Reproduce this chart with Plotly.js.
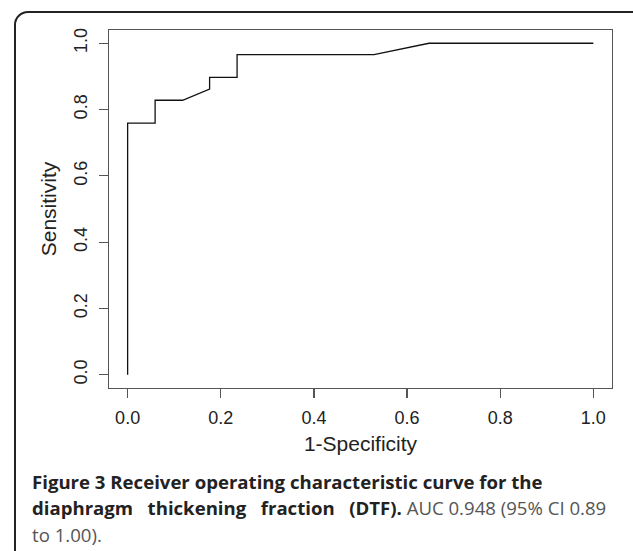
<!DOCTYPE html>
<html>
<head>
<meta charset="utf-8">
<script src="https://cdn.plot.ly/plotly-3.0.1.min.js"></script>
<style>
  html, body { margin: 0; padding: 0; background: #ffffff; }
  #wrap { position: relative; width: 633px; height: 551px; overflow: hidden; }
  #card { position: absolute; left: 14px; top: 11px; width: 700px; height: 600px;
          border: 2px solid #222; border-radius: 14px; box-sizing: border-box; }
  #chart { position: absolute; left: 0; top: 0; width: 633px; height: 551px; }
</style>
</head>
<body>
<div id="wrap">
  <div id="card"></div>
  <div id="chart"></div>
</div>
<script>
// ROC curve (1 - specificity vs sensitivity)
const fpr = [0.000, 0.000, 0.059, 0.059, 0.118, 0.176, 0.176, 0.235, 0.235, 0.529, 0.647, 1.000];
const tpr = [0.000, 0.759, 0.759, 0.828, 0.828, 0.862, 0.897, 0.897, 0.966, 0.966, 1.000, 1.000];

const tickVals = [0, 0.2, 0.4, 0.6, 0.8, 1.0];
const tickText = ['0.0', '0.2', '0.4', '0.6', '0.8', '1.0'];

const xTitle = '1-Specificity';
const yTitle = 'Sensitivity';
const captionBold1 = 'Figure 3 Receiver operating characteristic curve for the';
const captionBold2 = 'diaphragm&nbsp;&nbsp; thickening&nbsp;&nbsp; fraction&nbsp;&nbsp; (DTF).';
const captionNormal2 = 'AUC 0.948 (95% CI 0.89';
const captionNormal3 = 'to 1.00).';

const W = 633, H = 551;
const M = { l: 109, r: 21, t: 30, b: 163 };
const plotW = W - M.l - M.r, plotH = H - M.t - M.b;
const px = x => (x - M.l) / plotW;
const py = y => (H - M.b - y) / plotH;

const axisFont = { family: 'Liberation Sans, Arial, sans-serif', size: 18, color: '#222' };
const titleFont = { family: 'Liberation Sans, Arial, sans-serif', size: 21, color: '#222' };
const capFont = 'Open Sans, Noto Sans, sans-serif';
const capSize = 18.6;

const trace = {
  x: fpr, y: tpr, type: 'scatter', mode: 'lines',
  line: { color: '#111', width: 1.3, shape: 'linear' },
  hoverinfo: 'skip', showlegend: false
};

const axisCommon = {
  range: [-0.04, 1.04], tickmode: 'array', tickvals: tickVals, ticktext: tickText,
  ticks: 'outside', ticklen: 9, tickwidth: 1.2, tickcolor: '#555',
  showline: true, mirror: true, linecolor: '#555', linewidth: 1.3,
  showgrid: false, zeroline: false, tickfont: axisFont, fixedrange: true
};

const layout = {
  width: W, height: H, margin: M,
  paper_bgcolor: 'rgba(0,0,0,0)', plot_bgcolor: 'rgba(0,0,0,0)',
  showlegend: false,
  xaxis: Object.assign({}, axisCommon, {
    title: { text: xTitle, font: titleFont, standoff: 9 },
    ticklabelstandoff: 4
  }),
  yaxis: Object.assign({}, axisCommon, {
    tickangle: -90,
    title: { text: yTitle, font: titleFont, standoff: 8 },
    ticklabelstandoff: 5
  }),
  annotations: [
    { xref: 'paper', yref: 'paper', x: px(30), y: py(481), xanchor: 'left', yanchor: 'middle',
      showarrow: false, text: '<b>' + captionBold1 + '</b>',
      font: { family: capFont, size: capSize, color: '#222' } },
    { xref: 'paper', yref: 'paper', x: px(30), y: py(507), xanchor: 'left', yanchor: 'middle',
      showarrow: false,
      text: '<b>' + captionBold2 + '</b> <span style="color:#555">' + captionNormal2 + '</span>',
      font: { family: capFont, size: capSize, color: '#222' } },
    { xref: 'paper', yref: 'paper', x: px(30), y: py(534), xanchor: 'left', yanchor: 'middle',
      showarrow: false, text: captionNormal3,
      font: { family: capFont, size: capSize, color: '#555' } }
  ]
};

Plotly.newPlot('chart', [trace], layout, { displayModeBar: false, staticPlot: true });
</script>
</body>
</html>
